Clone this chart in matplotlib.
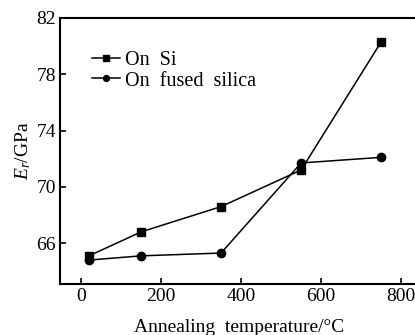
import matplotlib
matplotlib.use("Agg")
import matplotlib.pyplot as plt

temps = [20, 150, 350, 550, 750]
on_si = [65.1, 66.8, 68.6, 71.2, 80.3]
on_fused = [64.8, 65.1, 65.3, 71.7, 72.1]
xticks = [0, 200, 400, 600, 800]
yticks = [66, 70, 74, 78, 82]

plt.rcParams['font.family'] = ['Liberation Serif', 'DejaVu Serif']
plt.rcParams['mathtext.fontset'] = 'custom'
plt.rcParams['mathtext.rm'] = 'Liberation Serif'
plt.rcParams['mathtext.it'] = 'Liberation Serif:italic'

fig = plt.figure(figsize=(4.15, 3.35), dpi=100)
ax = fig.add_axes([60/415, 1-284/335, 1-60/415+0.01, (284-18)/335])

ax.plot(temps, on_si, color='black', lw=1.1, marker='s', ms=5.5, label='On  Si')
ax.plot(temps, on_fused, color='black', lw=1.1, marker='o', ms=6, label='On  fused  silica')

ax.set_xlim(-52.5, 845)
ax.set_ylim(63.1, 82)
ax.set_xticks(xticks)
ax.set_yticks(yticks)
ax.tick_params(direction='in', length=4, width=1.2, labelsize=14, pad=3)
for s in ['left', 'top', 'bottom']:
    ax.spines[s].set_linewidth(1.5)
ax.spines['right'].set_visible(False)

ax.set_xlabel('Annealing  temperature/°C', fontsize=14, labelpad=10)
ax.set_ylabel(r'$E_r$/GPa', fontsize=14, labelpad=2)

leg = ax.legend(loc='upper left', bbox_to_anchor=(0.068, 0.905), frameon=False,
                fontsize=14.5, handlelength=1.35, handletextpad=0.25, labelspacing=0.05,
                borderaxespad=0, markerscale=0.7)

fig.savefig('out.png', dpi=100)
